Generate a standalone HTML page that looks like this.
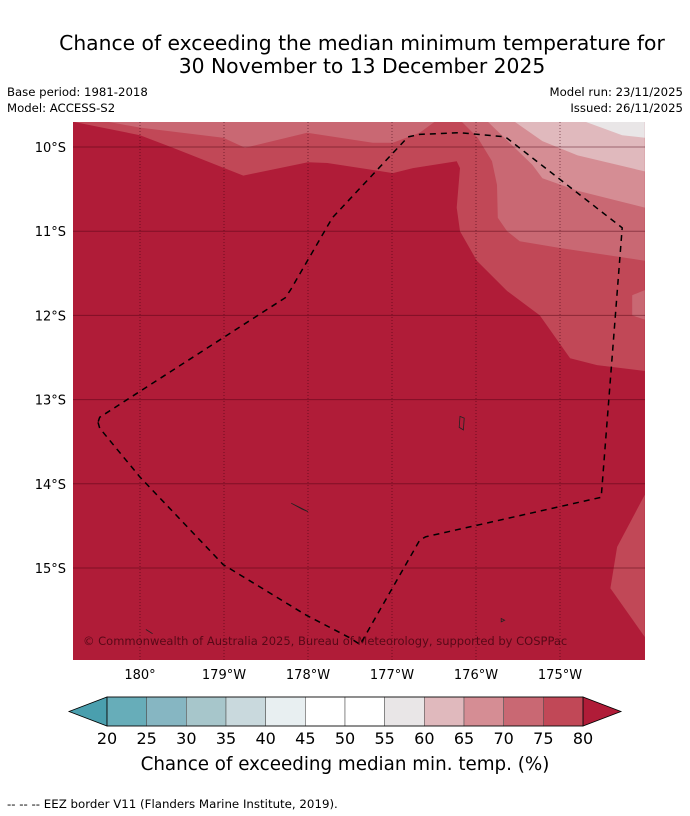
<!DOCTYPE html>
<html><head><meta charset="utf-8"><style>
body{margin:0;background:#fff;}
svg{display:block;font-family:"DejaVu Sans","Liberation Sans",sans-serif;}
</style></head><body>
<svg id="chart" width="690" height="816" viewBox="0 0 690 816">
<text x="362" y="50" font-size="20.3" text-anchor="middle">Chance of exceeding the median minimum temperature for</text>
<text x="362" y="73" font-size="20.3" text-anchor="middle">30 November to 13 December 2025</text>
<text x="7" y="96" font-size="11.7">Base period: 1981-2018</text>
<text x="7" y="112" font-size="11.7">Model: ACCESS-S2</text>
<text x="683" y="96" font-size="11.7" text-anchor="end">Model run: 23/11/2025</text>
<text x="683" y="112" font-size="11.7" text-anchor="end">Issued: 26/11/2025</text>
<defs><clipPath id="mapclip"><rect x="73" y="122" width="572" height="538"/></clipPath></defs>
<g id="map" clip-path="url(#mapclip)"></g>
<g id="axes"></g>
<g id="cbar"></g>
<text x="345" y="770" font-size="18.3" text-anchor="middle">Chance of exceeding median min. temp. (%)</text>
<text x="7" y="808" font-size="11.8">--  --  -- EEZ border V11 (Flanders Marine Institute, 2019).</text>
</svg>
<script>
// Colorbar data
const levels=[20,25,30,35,40,45,50,55,60,65,70,75,80];
const binColors=["#67adb9","#86b6c2","#a7c6cb","#c9d9dd","#e8eff1","#ffffff","#ffffff","#e9e6e7","#e0b9bd","#d58d94","#c96873","#c14857"];
const underColor="#4a9fae", overColor="#b01c38";
// Axis ticks
const lonTicks=[-180,-179,-178,-177,-176,-175];
const lonLabels=["180°","179°W","178°W","177°W","176°W","175°W"];
const latTicks=[-10,-11,-12,-13,-14,-15];
const latLabels=["10°S","11°S","12°S","13°S","14°S","15°S"];
// Contour fill regions [lon,lat]
const band75=[[-180.8,-9.7],[-180,-9.86],[-179.61,-10.01],[-178.77,-10.34],[-178,-10.18],[-177.77,-10.19],[-176.99,-10.31],[-176.75,-10.25],[-176.23,-10.17],[-176.19,-10.25],[-176.23,-10.72],[-176.19,-11.0],[-175.99,-11.35],[-175.63,-11.71],[-175.24,-12.0],[-174.88,-12.51],[-174.56,-12.59],[-173.99,-12.66],[-173.99,-9.7]];
const band75b=[[-173.99,-14.13],[-174.32,-14.75],[-174.4,-15.24],[-173.99,-15.82]];
const band70a=[[-180.39,-9.7],[-180,-9.77],[-179.01,-9.89],[-178.75,-10.01],[-178.01,-9.83],[-177.23,-9.95],[-176.99,-9.95],[-176.67,-9.83],[-176.49,-9.7]];
const band70b=[[-176.17,-9.7],[-175.98,-9.89],[-175.81,-10.17],[-175.75,-10.45],[-175.74,-10.84],[-175.63,-11.0],[-175.48,-11.12],[-175.0,-11.2],[-173.99,-11.35],[-173.99,-9.7]];
const band70c=[[-173.99,-11.7],[-174.14,-11.76],[-174.14,-12.0],[-173.99,-12.05]];
const band65=[[-175.86,-9.7],[-175.57,-9.98],[-175.33,-10.21],[-175.21,-10.37],[-174.79,-10.52],[-173.99,-10.72],[-173.99,-9.7]];
const band60=[[-175.54,-9.7],[-175.21,-9.93],[-174.79,-10.1],[-173.99,-10.29],[-173.99,-9.7]];
const band55=[[-174.7,-9.7],[-174.26,-9.86],[-173.99,-9.89],[-173.99,-9.7]];
const eez=[[-180.5,-13.27],[-180.48,-13.34],[-180,-13.92],[-179.01,-14.96],[-178.02,-15.56],[-177.5,-15.83],[-177.38,-15.91],[-176.67,-14.67],[-176.6,-14.63],[-174.51,-14.16],[-174.26,-10.96],[-175.65,-9.88],[-176.19,-9.83],[-176.67,-9.85],[-176.81,-9.88],[-177.71,-10.84],[-178.21,-11.70],[-178.27,-11.79],[-180.48,-13.21],[-180.5,-13.27]];
const islands=[[[-178.2,-14.23],[-178.07,-14.3],[-178.0,-14.33],[-178.1,-14.28]],[[-176.19,-13.2],[-176.14,-13.22],[-176.15,-13.36],[-176.2,-13.33]],[[-179.93,-15.73],[-179.85,-15.78]],[[-175.7,-15.6],[-175.66,-15.62],[-175.7,-15.64]]];

const X=lon=>140+(lon+180)*84;
const Y=lat=>147+(-lat-10)*84.2;
const NS="http://www.w3.org/2000/svg";
function mk(tag,attrs,parent){const e=document.createElementNS(NS,tag);for(const k in attrs)e.setAttribute(k,attrs[k]);parent.appendChild(e);return e;}
const pts=a=>a.map(p=>X(p[0]).toFixed(1)+","+Y(p[1]).toFixed(1)).join(" ");

const map=document.getElementById("map");
let r=mk("rect",{x:73,y:122,width:572,height:538,fill:overColor},map);


const fills=[[band75,"#c14857","band-75-80"],[band75b,"#c14857","band-75-80-southeast"],[band70a,"#c96873","band-70-75-north"],[band70b,"#c96873","band-70-75-northeast"],[band70c,"#c96873","band-70-75-patch"],[band65,"#d58d94","band-65-70"],[band60,"#e0b9bd","band-60-65"],[band55,"#e9e6e7","band-55-60"]];
fills.forEach(f=>{const p=mk("polygon",{points:pts(f[0]),fill:f[1]},map);

});
latTicks.forEach(t=>{const l=mk("line",{x1:73,x2:645,y1:Y(t),y2:Y(t),stroke:"rgba(70,0,15,0.45)","stroke-width":1},map);

});
lonTicks.forEach(t=>{const l=mk("line",{x1:X(t),x2:X(t),y1:122,y2:660,stroke:"rgba(60,0,15,0.55)","stroke-width":1,"stroke-dasharray":"1,2"},map);

});
islands.forEach(is=>{const p=mk("polygon",{points:pts(is),fill:"none",stroke:"#222","stroke-width":0.8},map);

});
const e=mk("polyline",{points:pts(eez),fill:"none",stroke:"#000","stroke-width":1.5,"stroke-dasharray":"6,5"},map);


const c=mk("text",{x:83,y:645,"font-size":11.5,fill:"rgba(50,0,10,0.7)"},map);
c.textContent="© Commonwealth of Australia 2025, Bureau of Meteorology, supported by COSPPac";



const axes=document.getElementById("axes");
latTicks.forEach((t,i)=>{const tx=mk("text",{x:66,y:Y(t)+5,"font-size":13,"text-anchor":"end"},axes);tx.textContent=latLabels[i];

});
lonTicks.forEach((t,i)=>{const tx=mk("text",{x:X(t),y:679,"font-size":13,"text-anchor":"middle"},axes);tx.textContent=lonLabels[i];

});

const cb=document.getElementById("cbar");
const cx0=107,cx1=583,cy0=697,cy1=726;
const CX=v=>cx0+(v-levels[0])/(levels[levels.length-1]-levels[0])*(cx1-cx0);
const under=mk("polygon",{points:`${cx0},${cy0} ${cx0},${cy1} 69,${(cy0+cy1)/2}`,fill:underColor,stroke:"#000","stroke-width":0.8},cb);


const over=mk("polygon",{points:`${cx1},${cy0} ${cx1},${cy1} 621,${(cy0+cy1)/2}`,fill:overColor,stroke:"#000","stroke-width":0.8},cb);


binColors.forEach((col,i)=>{const b=mk("rect",{x:CX(levels[i]),y:cy0,width:CX(levels[i+1])-CX(levels[i]),height:cy1-cy0,fill:col,stroke:"#555","stroke-width":0.6},cb);

});
const ol=mk("rect",{x:cx0,y:cy0,width:cx1-cx0,height:cy1-cy0,fill:"none",stroke:"#000","stroke-width":0.8},cb);


levels.forEach(v=>{const tx=mk("text",{x:CX(v),y:744,"font-size":16,"text-anchor":"middle"},cb);tx.textContent=v;

});
</script>
</body></html>
